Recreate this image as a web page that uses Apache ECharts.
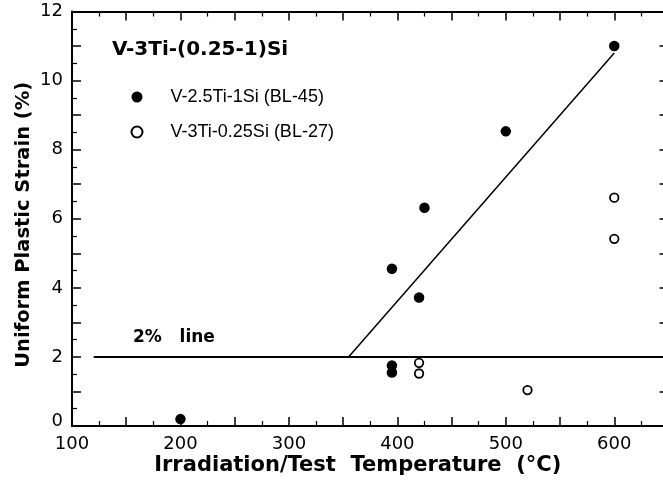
<!DOCTYPE html>
<html>
<head>
<meta charset="utf-8">
<script src="https://cdn.jsdelivr.net/npm/echarts@6/dist/echarts.min.js"></script>
<style>
  html, body { margin: 0; padding: 0; background: #fff; }
  #chart { width: 663px; height: 481px; }
</style>
</head>
<body>
<div id="chart"></div>
<script>
// Uniform plastic strain vs irradiation/test temperature, V-3Ti-(0.25-1)Si alloys
const bl45Temp   = [200, 395, 395, 395, 420, 425, 500, 600];
const bl45Strain = [0.2, 4.55, 1.75, 1.55, 3.72, 6.32, 8.53, 11.0];
const bl27Temp   = [420, 420, 520, 600, 600];
const bl27Strain = [1.83, 1.52, 1.04, 6.61, 5.42];
const fitTemp    = [355, 600];
const fitStrain  = [2.0, 10.8];
const refTemp    = [120, 650];
const refStrain  = [2, 2];
const xTicks = [100, 200, 300, 400, 500, 600];
const yTicks = [0, 2, 4, 6, 8, 10, 12];

const zip = (a, b) => a.map((v, i) => [v, b[i]]);
const WIDE = '"DejaVu Sans", Verdana, sans-serif';
const PLAIN = '"Liberation Sans", Arial, Helvetica, sans-serif';

const chart = echarts.init(document.getElementById('chart'), null, { renderer: 'canvas' });

const baseX = {
  type: 'value', min: 100, max: 650, interval: 50,
  axisLine: { show: true, onZero: false, lineStyle: { color: '#000', width: 2 } },
  axisTick: { show: true, inside: true, length: 9, lineStyle: { color: '#000', width: 1.5 } },
  minorTick: { show: true, splitNumber: 2, length: 5, lineStyle: { color: '#000', width: 1.2 } },
  splitLine: { show: false }
};
const baseY = {
  type: 'value', min: 0, max: 12, interval: 1,
  axisLine: { show: true, onZero: false, lineStyle: { color: '#000', width: 2 } },
  axisTick: { show: true, inside: true, length: 9, lineStyle: { color: '#000', width: 1.5 } },
  minorTick: { show: true, splitNumber: 2, length: 5, lineStyle: { color: '#000', width: 1.2 } },
  splitLine: { show: false }
};

chart.setOption({
  animation: false,
  backgroundColor: '#fff',
  grid: {
    left: 72, top: 11.5, width: 596.5, height: 414.5,
    containLabel: false, outerBoundsMode: 'none'
  },
  title: {
    text: 'V-3Ti-(0.25-1)Si',
    left: 112, top: 40, padding: 0,
    textStyle: { fontFamily: WIDE, fontSize: 20, fontWeight: 'bold', color: '#000' }
  },
  legend: {
    orient: 'vertical', left: 130.5, top: 88, padding: 0,
    itemWidth: 11, itemHeight: 11, itemGap: 17,
    data: ['V-2.5Ti-1Si (BL-45)', 'V-3Ti-0.25Si (BL-27)'],
    textStyle: { fontFamily: PLAIN, fontSize: 18, color: '#000', padding: [0, 0, 0, 23] }
  },
  xAxis: [
    Object.assign({}, baseX, {
      position: 'bottom',
      name: 'Irradiation/Test  Temperature  (°C)',
      nameLocation: 'middle', nameGap: 29, nameMoveOverlap: false,
      nameTextStyle: {
        fontFamily: WIDE, fontSize: 21, fontWeight: 'bold', color: '#000',
        padding: [0, 25, 0, 0]
      },
      axisLabel: {
        show: true, margin: 9, color: '#000', fontFamily: WIDE, fontSize: 18,
        formatter: v => (xTicks.indexOf(v) >= 0 ? String(v) : '')
      }
    }),
    Object.assign({}, baseX, { position: 'top', axisLabel: { show: false } })
  ],
  yAxis: [
    Object.assign({}, baseY, {
      position: 'left',
      name: 'Uniform Plastic Strain (%)',
      nameLocation: 'middle', nameGap: 38, nameMoveOverlap: false,
      nameTextStyle: {
        fontFamily: WIDE, fontSize: 19.5, fontWeight: 'bold', color: '#000',
        padding: [0, 12, 0, 0]
      },
      axisLabel: {
        show: true, margin: 9, color: '#000', fontFamily: WIDE, fontSize: 18,
        formatter: v => (v === 0 ? '{lo|0}' : (yTicks.indexOf(v) >= 0 ? String(v) : '')),
        rich: { lo: { fontFamily: WIDE, fontSize: 18, color: '#000', padding: [0, 0, 10, 0] } }
      }
    }),
    Object.assign({}, baseY, { position: 'right', axisLabel: { show: false } })
  ],
  graphic: [{
    type: 'text', left: 133, top: 329,
    style: { text: '2%   line', fontFamily: WIDE, fontSize: 17, fontWeight: 'bold', fill: '#000' }
  }],
  series: [
    {
      name: '2% line', type: 'line', data: zip(refTemp, refStrain),
      symbol: 'none', lineStyle: { color: '#000', width: 2 }, silent: true
    },
    {
      name: 'fit', type: 'line', data: zip(fitTemp, fitStrain),
      symbol: 'none', lineStyle: { color: '#000', width: 1.5 }, silent: true
    },
    {
      name: 'V-2.5Ti-1Si (BL-45)', type: 'scatter', data: zip(bl45Temp, bl45Strain),
      symbol: 'circle', symbolSize: 10.5,
      itemStyle: { color: '#000', opacity: 1 }
    },
    {
      name: 'V-3Ti-0.25Si (BL-27)', type: 'scatter', data: zip(bl27Temp, bl27Strain),
      symbol: 'circle', symbolSize: 8.5,
      itemStyle: { color: '#fff', borderColor: '#000', borderWidth: 1.8, opacity: 1 }
    }
  ]
});
</script>
</body>
</html>
